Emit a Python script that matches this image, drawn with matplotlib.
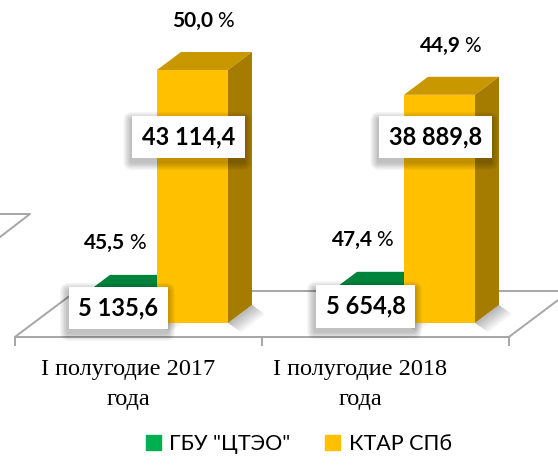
import matplotlib
matplotlib.use("Agg")
import matplotlib.pyplot as plt
from matplotlib.patches import Polygon, Patch, FancyBboxPatch
from matplotlib.transforms import IdentityTransform

# data
categories = ["I полугодие 2017\nгода", "I полугодие 2018\nгода"]
series = ['ГБУ "ЦТЭО"', "КТАР СПб"]
gbu = [5135.6, 5654.8]
ktar = [43114.4, 38889.8]
gbu_pct = ["45,5", "47,4"]
ktar_pct = ["50,0", "44,9"]

W, H = 558, 471
fig = plt.figure(figsize=(W / 100, H / 100), dpi=100)
ax = fig.add_axes([0, 0, 1, 1])
ax.axis("off")

# scales: pixels per category unit / per value unit
PXC = 247.0
PXV = 253.0 / 43114.4
X0, BASE = 157.0, 323.0          # pixel of category 0 / value 0 (from top)
ax.set_xlim(-X0 / PXC, (W - X0) / PXC)
ax.set_ylim(-(H - BASE) / PXV, BASE / PXV)

ux, uy = 1 / PXC, 1 / PXV        # one pixel in data units
DX, DY = 24 * ux, 18 * uy        # depth vector
bw = 71 * ux

def fmt(v):
    return f"{v:,.1f}".replace(",", " ").replace(".", ",")

# floor
f0, f1 = -14 / 18, 32 / 18
floor = [(-0.5 + f0 * DX, f0 * DY), (1.5 + f0 * DX, f0 * DY),
         (1.5 + f1 * DX, f1 * DY), (-0.5 + f1 * DX, f1 * DY)]
ax.add_patch(Polygon(floor, closed=True, fc="white", ec="#a6a6a6", lw=1.4, zorder=1))
for t in [-0.5, 0.5, 1.5]:
    ax.plot([t + f0 * DX] * 2, [f0 * DY, f0 * DY - 8 * uy], color="#a6a6a6", lw=1.4, zorder=1)

# stray fragment of neighbouring frame, top left
ax.plot([-X0 / PXC, 30 * ux - X0 / PXC, -X0 / PXC],
        [(BASE - 214) * uy, (BASE - 214) * uy, (BASE - 237) * uy], color="#a6a6a6", lw=1.4, zorder=1)

def bar3d(xl, v, front, top, side):
    ax.bar(xl, v, width=bw, align="edge", color=front, lw=0, zorder=3)
    ax.add_patch(Polygon([(xl, v), (xl + bw, v), (xl + bw + DX, v + DY), (xl + DX, v + DY)],
                         closed=True, fc=top, ec="none", zorder=3))
    ax.add_patch(Polygon([(xl + bw, 0), (xl + bw + DX, DY), (xl + bw + DX, v + DY), (xl + bw, v)],
                         closed=True, fc=side, ec="none", zorder=3))
    # soft shadow on floor
    for k in range(8):
        s = 2 + 1.6 * k
        ax.add_patch(Polygon([(xl + bw, 0), (xl + bw + DX, DY), (xl + bw + DX + s * ux, DY - 0.7 * s * uy),
                              (xl + bw + s * ux, -0.7 * s * uy)],
                             closed=True, fc="black", alpha=0.035, ec="none", zorder=2))

boxed = []

def box_label(x, y, s):
    t = ax.text(x, y, s, color="black", zorder=6, ha="center", va="center", fontsize=17,
                fontweight="bold", family="Lato",
                bbox=dict(boxstyle="square,pad=0.42", fc="white", ec="none"))
    boxed.append(t)

def pct_label(x, y, s):
    ax.text(x + 9 * ux, y, s, ha="right", va="center", fontsize=15, fontweight="bold",
            family="Lato", zorder=6)
    ax.text(x + 13 * ux, y, "%", ha="left", va="center", fontsize=15, family="Lato", zorder=6)

for i in range(len(categories)):
    gx, kx = i - bw, i
    bar3d(gx, gbu[i], "#00b050", "#00843c", "#006b31")
    bar3d(kx, ktar[i], "#ffc000", "#c99700", "#a67c00")
    box_label(gx + bw / 2 - 3 * ux, gbu[i] / 2, fmt(gbu[i]))
    box_label(kx + bw / 2 - 4 * ux, 186 * uy, fmt(ktar[i]))
    pct_label(gx + bw / 2 - 5 * ux, gbu[i] + 50 * uy, gbu_pct[i])
    pct_label(kx + bw / 2 + 12 * ux, ktar[i] + 49 * uy, ktar_pct[i])
    ax.text(i - 0.117 - 0.06 * i, -(359 - BASE) * uy, categories[i], ha="center", va="top",
            fontsize=17.5, family="Liberation Serif", linespacing=1.55)

handles = [Patch(color="#00b050"), Patch(color="#ffc000")]
fig.legend(handles, series, loc="lower center", ncol=2, frameon=False,
           prop={"family": "Lato", "size": 15.5}, handlelength=0.7, handleheight=0.7,
           handletextpad=0.4, columnspacing=1.6, bbox_to_anchor=(0.535, -0.005))

# soft drop shadows behind the label boxes (need a draw first to place the boxes)
fig.canvas.draw()
renderer = fig.canvas.get_renderer()
for t in boxed:
    bb = t.get_bbox_patch().get_window_extent(renderer)
    for k in range(6):
        g = 1 + 1.3 * k
        ax.add_patch(FancyBboxPatch((bb.x0 - 1 - g, bb.y0 - 4 - g), bb.width + 2 * g, bb.height + 2 * g,
                                    boxstyle=f"round,pad=0,rounding_size={g + 1}",
                                    transform=IdentityTransform(), fc="black", ec="none",
                                    alpha=0.045, zorder=5))

fig.savefig("out.png", dpi=100)
